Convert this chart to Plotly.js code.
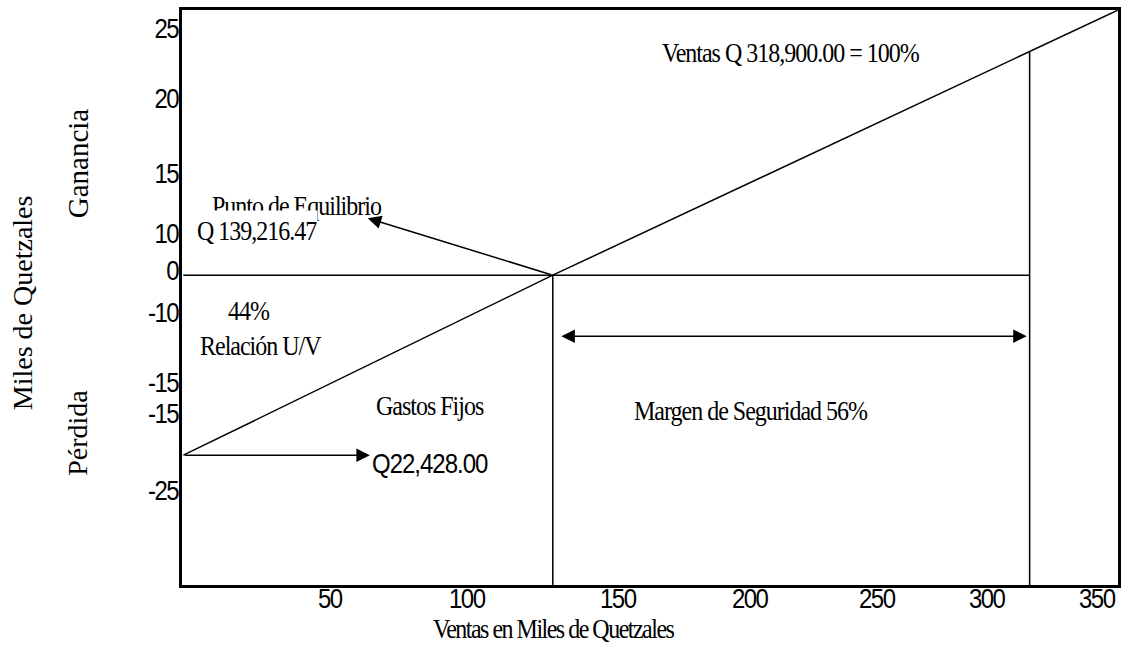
<!DOCTYPE html>
<html>
<head>
<meta charset="utf-8">
<script src="https://cdn.plot.ly/plotly-3.0.1.min.js"></script>
<style>
  html, body { margin: 0; padding: 0; background: #ffffff; }
  #chart { width: 1123px; height: 655px; }
  .xtick text, .ytick text { letter-spacing: -1.5px; }
  .xtick, .ytick { transform-box: fill-box; transform-origin: center; transform: scaleY(1.18); }
  .annotation-text { letter-spacing: -1px; transform-box: fill-box; transform-origin: center; transform: scaleY(1.18); }
  .annotation[data-index="0"] .annotation-text,
  .annotation[data-index="1"] .annotation-text,
  .annotation[data-index="2"] .annotation-text { letter-spacing: 0px; transform: none; }
  .annotation[data-index="3"] .annotation-text { letter-spacing: -1.5px; }
</style>
</head>
<body>
<div id="chart"></div>
<script>
// ---- Data (miles de quetzales) ----
const ventasTotales = 318.9;        // Ventas Q 318,900.00
const puntoEquilibrio = 139.216;    // Q 139,216.47
const gastosFijos = -22.428;        // Q 22,428.00
const ventasLineX = [0, 139.216, 352];
const ventasLineY = [-22.428, 0, 33];
const ventasVerticalTop = 27.9;

// tick labels as drawn on the picture
const xTickLabels = ['50', '100', '150', '200', '250', '300', '350'];
const xTickPos = [55.2, 106.8, 163.7, 213.4, 261.3, 302.7, 344.2];
const yTickLabels = ['25', '20', '15', '10', '0', '-10', '-15', '-15', '-25'];
const yTickPos = [30.8, 22.05, 12.7, 5.23, 0.62, -4.6, -13.3, -17.2, -26.8];

const BLACK = '#000000';
const lineStyle = { color: BLACK, width: 1.5 };

const traces = [
  { x: ventasLineX, y: ventasLineY, mode: 'lines', line: lineStyle, hoverinfo: 'skip', showlegend: false },
  { x: [0, ventasTotales], y: [0, 0], mode: 'lines', line: lineStyle, hoverinfo: 'skip', showlegend: false },
  { x: [puntoEquilibrio, puntoEquilibrio], y: [0, -45], mode: 'lines', line: lineStyle, hoverinfo: 'skip', showlegend: false },
  { x: [ventasTotales, ventasTotales], y: [ventasVerticalTop, -45], mode: 'lines', line: lineStyle, hoverinfo: 'skip', showlegend: false }
];

const serif = 'Liberation Serif, Times New Roman, serif';
const sans = 'Liberation Sans, Arial, sans-serif';

function txt(text, x, y, opts) {
  return Object.assign({
    text: text, x: x, y: y, xref: 'x', yref: 'y',
    showarrow: false, xanchor: 'center', yanchor: 'middle',
    font: { family: serif, size: 24, color: BLACK }
  }, opts || {});
}

function arrow(xTip, yTip, xTail, yTail, extra) {
  return Object.assign({
    text: '', x: xTip, y: yTip, ax: xTail, ay: yTail,
    xref: 'x', yref: 'y', axref: 'x', ayref: 'y',
    showarrow: true, arrowhead: 2, arrowsize: 1.8, arrowwidth: 1.5,
    arrowcolor: BLACK, standoff: 0, startstandoff: 0
  }, extra || {});
}

const annotations = [
  // 0-2 rotated side labels
  txt('Miles de Quetzales', -0.1699, -3.36, { xref: 'paper', textangle: -90, font: { family: serif, size: 28, color: BLACK } }),
  txt('Ganancia', -0.110, 13.95, { xref: 'paper', textangle: -90, font: { family: serif, size: 29, color: BLACK } }),
  txt('Pérdida', -0.111, -19.56, { xref: 'paper', textangle: -90, font: { family: serif, size: 28, color: BLACK } }),
  // 3 x title
  txt('Ventas en Miles de Quetzales', 0.397, -0.0765, { xref: 'paper', yref: 'paper' }),
  // 4+
  txt('Ventas Q 318,900.00 = 100%', 228.9, 27.8),
  txt('Punto de Equilibrio', 43.0, 8.7),
  txt('Q 139,216.47', 27.7, 5.48, { bgcolor: '#ffffff', borderpad: 0, height: 40 }),
  txt('44%', 24.7, -4.36),
  txt('Relación U/V', 29.2, -8.72),
  txt('Gastos Fijos', 92.9, -16.2),
  txt('Margen de Seguridad 56%', 213.8, -16.8),
  txt('Q22,428.00', 70.4, -23.4, { xanchor: 'left', font: { family: sans, size: 24, color: BLACK } }),
  // arrows
  arrow(69.5, 7.1, puntoEquilibrio, 0),
  arrow(70.3, gastosFijos, 0, gastosFijos),
  arrow(317.8, -7.6, 141.9, -7.6, { arrowside: 'end+start', startarrowhead: 2, startarrowsize: 1.8 })
];

const layout = {
  width: 1123, height: 655,
  margin: { l: 182, r: 5, t: 10, b: 70, pad: 0 },
  paper_bgcolor: '#ffffff', plot_bgcolor: '#ffffff',
  showlegend: false,
  xaxis: {
    range: [-0.5, 352.2], showgrid: false, zeroline: false,
    showline: true, mirror: true, linecolor: BLACK, linewidth: 3,
    ticks: '', tickmode: 'array', tickvals: xTickPos, ticktext: xTickLabels,
    ticklabelstandoff: -10,
    tickfont: { family: sans, size: 24, color: BLACK }, fixedrange: true
  },
  yaxis: {
    range: [-38.6, 33.04], showgrid: false, zeroline: false,
    showline: true, mirror: true, linecolor: BLACK, linewidth: 3,
    ticks: '', tickmode: 'array', tickvals: yTickPos, ticktext: yTickLabels,
    ticklabelstandoff: -4,
    tickfont: { family: sans, size: 24, color: BLACK }, fixedrange: true
  },
  annotations: annotations
};

Plotly.newPlot('chart', traces, layout, { displayModeBar: false, staticPlot: true });
</script>
</body>
</html>
